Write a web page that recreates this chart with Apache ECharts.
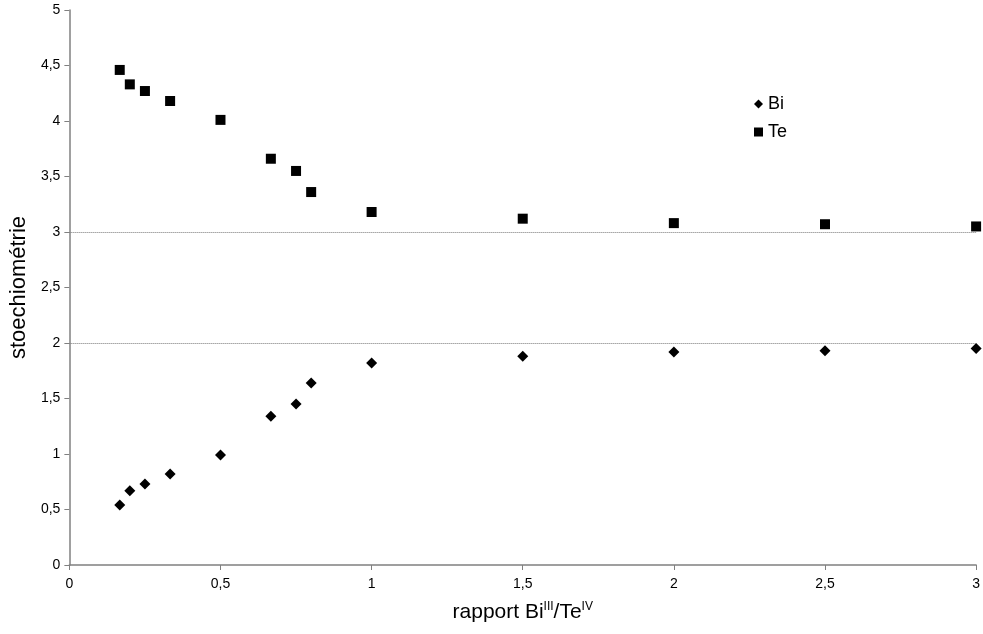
<!DOCTYPE html>
<html><head><meta charset="utf-8">
<script src="https://cdn.jsdelivr.net/npm/echarts@6/dist/echarts.min.js"></script>
<style>html,body{margin:0;padding:0;background:#fff}#c{width:983px;height:634px}</style>
</head><body><div id="c"></div>
<script>
var ratios = [1/6, 0.2, 0.25, 1/3, 0.5, 2/3, 0.75, 0.8, 1, 1.5, 2, 2.5, 3];
var biValues = [0.54, 0.67, 0.73, 0.82, 0.99, 1.34, 1.45, 1.64, 1.82, 1.88, 1.92, 1.93, 1.95];
var teValues = [4.46, 4.33, 4.27, 4.18, 4.01, 3.66, 3.55, 3.36, 3.18, 3.12, 3.08, 3.07, 3.05];
var refLines = [2, 3];
var seriesNames = ['Bi', 'Te'];

function pairs(xs, ys){ return xs.map(function(x,i){ return [x, ys[i]]; }); }
function fmt(v){ return String(v).replace('.', ','); }

var font = 'Liberation Sans, Arial, sans-serif';
var chart = echarts.init(document.getElementById('c'), null, {renderer:'canvas'});
chart.setOption({
  animation: false,
  backgroundColor: '#fff',
  textStyle: {fontFamily: font},
  grid: {left: 67, right: 5, top: 10, bottom: 69, containLabel: false},
  legend: {
    orient: 'vertical', left: 749, top: 90, itemWidth: 9, itemHeight: 9, itemGap: 10,
    textStyle: {fontSize: 18, color: '#000', fontFamily: font},
    data: [{name: seriesNames[0], icon: 'diamond'}, {name: seriesNames[1], icon: 'rect'}]
  },
  xAxis: {
    type: 'value', min: 0, max: 3, interval: 0.5,
    axisLine: {show: true, lineStyle: {color: '#808080', width: 1.5}},
    axisTick: {show: true, length: 5, lineStyle: {color: '#808080'}},
    axisLabel: {formatter: fmt, fontSize: 14, color: '#000', margin: 12},
    splitLine: {show: false},
    name: '{n|rapport Bi}{s|III}{n|/Te}{s|IV}', nameLocation: 'middle', nameGap: 36,
    nameTextStyle: {rich: {n: {fontSize: 21, color: '#000', fontFamily: font}, s: {fontSize: 12, color: '#000', fontFamily: font, padding: [0,0,11,0]}}}
  },
  yAxis: {
    type: 'value', min: 0, max: 5, interval: 0.5,
    axisLine: {show: true, lineStyle: {color: '#808080', width: 1.5}},
    axisTick: {show: true, length: 5, lineStyle: {color: '#808080'}},
    axisLabel: {formatter: fmt, fontSize: 14, color: '#000', margin: 9},
    splitLine: {show: false},
    name: 'stoechiométrie', nameLocation: 'middle', nameGap: 39,
    nameTextStyle: {fontSize: 22, color: '#000', fontFamily: font}
  },
  series: [
    {
      name: seriesNames[0], type: 'scatter', symbol: 'diamond', symbolSize: 11,
      itemStyle: {color: '#000', opacity: 1}, data: pairs(ratios, biValues),
      markLine: {
        silent: true, symbol: ['none','none'], label: {show: false},
        lineStyle: {type: [1,1], color: '#777', width: 1},
        data: refLines.map(function(v){ return {yAxis: v}; })
      }
    },
    {
      name: seriesNames[1], type: 'scatter', symbol: 'rect', symbolSize: 10,
      itemStyle: {color: '#000', opacity: 1}, data: pairs(ratios, teValues)
    }
  ]
});
</script></body></html>
